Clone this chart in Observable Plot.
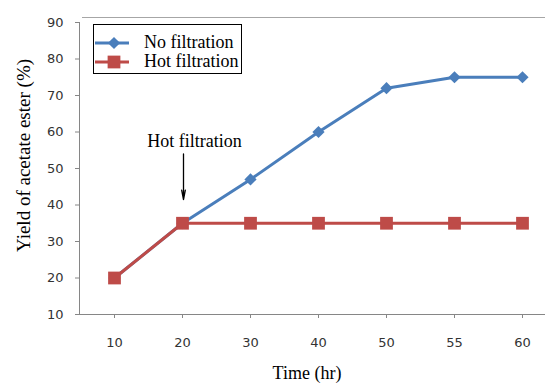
<!DOCTYPE html>
<html><head><meta charset="utf-8">
<script src="https://cdn.jsdelivr.net/npm/d3@7"></script>
<script src="https://cdn.jsdelivr.net/npm/@observablehq/plot@0.6"></script>
<style>
html,body{margin:0;padding:0;background:#fff;overflow:hidden;}
#wrap{position:relative;width:545px;height:383px;overflow:hidden;}
#wrap svg{overflow:hidden;}
.topline{position:absolute;left:82px;top:17px;width:463px;border-top:1px solid #a6a6a6;}
.legend{position:absolute;left:93px;top:24px;width:147px;height:48px;border:1px solid #000;background:#fff;font-family:"Liberation Serif","Times New Roman",serif;font-size:18px;color:#000;}
.legend .row{position:absolute;left:0;height:20px;}
.legend svg{position:absolute;left:0;top:0;}
.legend span{position:absolute;left:50px;top:-2px;white-space:nowrap;line-height:22px;}
</style></head><body><div id="wrap"><div class="topline"></div></div>
<script>
const times = ["10","20","30","40","50","55","60"];
const noFiltration = [20,35,47,60,72,75,75];
const hotFiltration = [20,35,35,35,35,35,35];
const yTicks = [10,20,30,40,50,60,70,80,90];
const seriesNames = ["No filtration","Hot filtration"];
const seriesColors = ["#4A7EBB","#BE4B48"];
const seriesSymbols = ["diamond2","square"];
const annotationLabel = "Hot filtration";
const annotationTime = "20";
const annotationTextY = 57.5;
const arrowFromY = 54;
const arrowToY = 41.5;
const xTitle = "Time (hr)";
const yTitle = "Yield of acetate ester (%)";

const blue = times.map((t,i)=>({time:t, value:noFiltration[i]}));
const red = times.map((t,i)=>({time:t, value:hotFiltration[i]}));

const serif = "'Liberation Serif','Times New Roman',serif";

const chart = Plot.plot({
  width: 545,
  height: 383,
  marginLeft: 79,
  marginRight: -11,
  marginTop: 22,
  marginBottom: 69,
  style: {fontFamily: "'DejaVu Sans',sans-serif", fontSize: "13px", color: "#333", background: "#fff"},
  x: {type: "point", domain: times, padding: 0.5},
  y: {domain: [10, 90]},
  marks: [
    Plot.axisX({tickSize: 4, tickPadding: 19, label: null, stroke: "#868686", fill: "#333"}),
    Plot.axisY({ticks: yTicks, tickSize: 4, tickPadding: 12, label: null, stroke: "#868686", fill: "#333"}),
    Plot.frame({anchor: "left", stroke: "#868686"}),
    Plot.frame({anchor: "bottom", stroke: "#868686"}),
    Plot.line(blue, {x: "time", y: "value", stroke: seriesColors[0], strokeWidth: 3}),
    Plot.dot(blue, {x: "time", y: "value", symbol: seriesSymbols[0], fill: seriesColors[0], stroke: "none", r: 5.5}),
    Plot.line(red, {x: "time", y: "value", stroke: seriesColors[1], strokeWidth: 3}),
    Plot.dot(red, {x: "time", y: "value", symbol: seriesSymbols[1], fill: seriesColors[1], stroke: "none", r: 7.2}),
    Plot.text([annotationLabel], {x: () => annotationTime, y: () => annotationTextY, text: d => d, dx: 12, fontFamily: serif, fontSize: 18, fill: "#000"}),
    Plot.arrow([0], {x1: () => annotationTime, x2: () => annotationTime, y1: () => arrowFromY, y2: () => arrowToY, dx: 1, stroke: "#000", strokeWidth: 1.3, headLength: 11, headAngle: 22}),
    Plot.text([xTitle], {frameAnchor: "bottom", text: d => d, textAnchor: "middle", lineAnchor: "middle", dy: 59, dx: -11, fontFamily: serif, fontSize: 18, fill: "#000"}),
    Plot.text([yTitle], {frameAnchor: "left", text: d => d, textAnchor: "middle", lineAnchor: "middle", dx: -56, dy: -13, rotate: -90, fontFamily: serif, fontSize: 19, fill: "#000"})
  ]
});
const wrap = document.getElementById("wrap");
wrap.insertBefore(chart, wrap.firstChild);

// legend
const legend = document.createElement("div");
legend.className = "legend";
seriesNames.forEach((name, i) => {
  const row = document.createElement("div");
  row.className = "row";
  row.style.top = (i === 0 ? 8 : 27) + "px";
  row.style.width = "147px";
  const svg = d3.create("svg").attr("width", 40).attr("height", 20);
  svg.append("line").attr("x1", 1).attr("x2", 35).attr("y1", 10).attr("y2", 10)
    .attr("stroke", seriesColors[i]).attr("stroke-width", 3);
  const sym = i === 0 ? d3.symbolDiamond2 : d3.symbolSquare;
  const size = i === 0 ? Math.PI * 5.5 * 5.5 : Math.PI * 7.2 * 7.2;
  svg.append("path").attr("d", d3.symbol(sym, size)()).attr("transform", "translate(20,10)").attr("fill", seriesColors[i]);
  row.appendChild(svg.node());
  const span = document.createElement("span");
  span.textContent = name;
  row.appendChild(span);
  legend.appendChild(row);
});
wrap.appendChild(legend);
</script>
</body></html>
